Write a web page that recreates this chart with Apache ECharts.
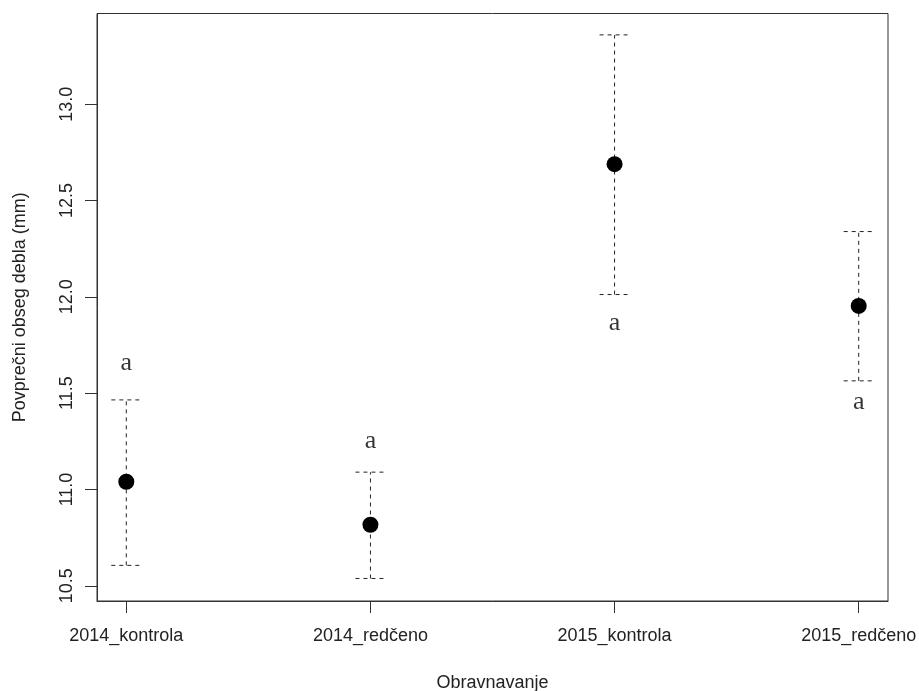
<!DOCTYPE html>
<html>
<head>
<meta charset="utf-8">
<script src="https://cdn.jsdelivr.net/npm/echarts@6/dist/echarts.min.js"></script>
<style>
  html, body { margin: 0; padding: 0; background: #fff; }
  #chart { width: 919px; height: 691px; }
</style>
</head>
<body>
<div id="chart"></div>
<script>
// Treatment groups and mean trunk circumference with interval bounds
const categories = ['2014_kontrola', '2014_redčeno', '2015_kontrola', '2015_redčeno'];
const means = [11.04, 10.817, 12.689, 11.953];
const upper = [11.465, 11.09, 13.36, 12.339];
const lower = [10.606, 10.538, 12.012, 11.564];
// Significance-group letters and the height they sit at
const letters = ['a', 'a', 'a', 'a'];
const letterY = [11.657, 11.249, 11.865, 11.451];
const yTicks = [10.5, 11.0, 11.5, 12.0, 12.5, 13.0];

const positions = categories.map((_, i) => i + 1);

const chart = echarts.init(document.getElementById('chart'), null, { renderer: 'canvas' });

const axisFont = { fontFamily: 'Liberation Sans, Arial, sans-serif', fontSize: 18, color: '#222' };
const lineCol = '#333';

const errorData = positions.map((x, i) => [x, lower[i], upper[i]]);

function renderBar(params, api) {
  const x = api.value(0);
  const lo = api.coord([x, api.value(1)]);
  const hi = api.coord([x, api.value(2)]);
  const half = 15;
  const style = { stroke: '#222', lineWidth: 1, lineDash: [4, 4], fill: null };
  return {
    type: 'group',
    children: [
      { type: 'line', shape: { x1: lo[0], y1: lo[1], x2: hi[0], y2: hi[1] }, style: style },
      { type: 'line', shape: { x1: hi[0] - half, y1: hi[1], x2: hi[0] + half, y2: hi[1] }, style: style },
      { type: 'line', shape: { x1: lo[0] - half, y1: lo[1], x2: lo[0] + half, y2: lo[1] }, style: style }
    ]
  };
}

chart.setOption({
  animation: false,
  backgroundColor: '#fff',
  grid: {
    left: 97, top: 13.5, right: 31, bottom: 90,
    outerBoundsMode: 'none',
    containLabel: false,
    show: true, borderColor: lineCol, borderWidth: 1, backgroundColor: 'transparent'
  },
  xAxis: {
    type: 'value',
    min: 0.88, max: 4.12,
    name: 'Obravnavanje',
    nameLocation: 'middle',
    nameGap: 73,
    nameTextStyle: axisFont,
    axisLine: { show: true, onZero: false, lineStyle: { color: lineCol, width: 1 } },
    axisTick: { show: true, length: 12, customValues: positions, lineStyle: { color: lineCol } },
    axisLabel: {
      ...axisFont,
      margin: 26,
      customValues: positions,
      formatter: v => categories[Math.round(v) - 1] || ''
    },
    splitLine: { show: false }
  },
  yAxis: {
    type: 'value',
    min: 10.421, max: 13.471,
    name: 'Povprečni obseg debla (mm)',
    nameLocation: 'middle',
    nameGap: 68,
    nameTextStyle: axisFont,
    axisLine: { show: true, onZero: false, lineStyle: { color: lineCol, width: 1 } },
    axisTick: { show: true, length: 12, customValues: yTicks, lineStyle: { color: lineCol } },
    axisLabel: {
      ...axisFont,
      rotate: 90,
      margin: 21,
      customValues: yTicks,
      formatter: v => v.toFixed(1)
    },
    splitLine: { show: false }
  },
  series: [
    {
      type: 'custom',
      renderItem: renderBar,
      data: errorData,
      encode: { x: 0, y: [1, 2] },
      z: 2
    },
    {
      type: 'scatter',
      data: positions.map((x, i) => [x, means[i]]),
      symbol: 'circle',
      symbolSize: 16,
      itemStyle: { color: '#000', opacity: 1 },
      z: 3
    },
    {
      type: 'scatter',
      data: positions.map((x, i) => ({ value: [x, letterY[i]], label: { formatter: letters[i] } })),
      symbolSize: 0,
      label: {
        show: true,
        position: 'inside',
        fontFamily: 'Liberation Serif, Times New Roman, serif',
        fontSize: 26,
        color: '#000'
      },
      z: 4
    }
  ]
});
</script>
</body>
</html>
